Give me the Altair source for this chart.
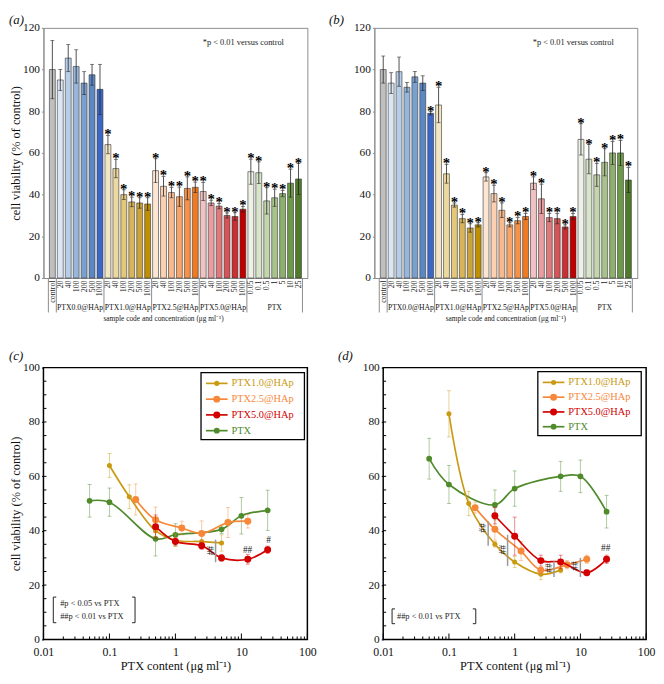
import altair as alt
import pandas as pd

FONT = "Liberation Serif"

groups = ["PTX0.0@HAp", "PTX1.0@HAp", "PTX2.5@HAp", "PTX5.0@HAp", "PTX"]
hap_conc = ["20", "40", "100", "200", "500", "1000"]
ptx_conc = ["0.05", "0.1", "0.5", "1", "5", "10", "25"]

# ---------------- panel (a)
a_control = [100.0, 14.0]
a_mean = {
    "PTX0.0@HAp": [95.0, 105.5, 101.5, 93.5, 97.5, 90.5],
    "PTX1.0@HAp": [64.0, 52.5, 40.0, 36.5, 36.0, 35.5],
    "PTX2.5@HAp": [51.5, 44.0, 41.0, 39.0, 43.0, 43.5],
    "PTX5.0@HAp": [41.5, 36.0, 34.5, 30.0, 29.5, 33.0],
    "PTX": [51.0, 50.5, 37.0, 38.5, 40.5, 45.5, 47.5],
}
a_err = {
    "PTX0.0@HAp": [5.0, 6.5, 8.0, 5.5, 5.0, 12.0],
    "PTX1.0@HAp": [4.4, 4.4, 2.3, 2.3, 2.5, 3.0],
    "PTX2.5@HAp": [5.7, 4.7, 2.5, 4.6, 5.5, 2.5],
    "PTX5.0@HAp": [4.3, 1.3, 1.3, 1.2, 1.8, 1.3],
    "PTX": [6.0, 5.2, 6.3, 4.1, 1.5, 6.7, 7.4],
}
a_sig = {
    "PTX0.0@HAp": [0, 0, 0, 0, 0, 0],
    "PTX1.0@HAp": [1, 1, 1, 1, 1, 1],
    "PTX2.5@HAp": [1, 1, 1, 1, 1, 1],
    "PTX5.0@HAp": [1, 1, 1, 1, 1, 1],
    "PTX": [1, 1, 1, 1, 1, 1, 1],
}

# ---------------- panel (b)
b_control = [100.0, 6.5]
b_mean = {
    "PTX0.0@HAp": [93.5, 99.0, 91.5, 96.5, 93.5, 79.0],
    "PTX1.0@HAp": [83.0, 50.0, 35.0, 28.5, 24.0, 25.5],
    "PTX2.5@HAp": [48.5, 40.5, 32.5, 25.5, 27.5, 29.5],
    "PTX5.0@HAp": [45.5, 38.0, 29.0, 28.5, 24.5, 29.5],
    "PTX": [66.5, 57.0, 49.5, 55.5, 60.0, 60.0, 47.0],
}
b_err = {
    "PTX0.0@HAp": [5.0, 7.0, 2.3, 2.6, 3.5, 0.8],
    "PTX1.0@HAp": [8.5, 4.5, 1.0, 2.0, 2.0, 1.0],
    "PTX2.5@HAp": [2.0, 4.0, 3.5, 1.0, 1.5, 1.5],
    "PTX5.0@HAp": [3.0, 7.0, 2.0, 2.5, 1.0, 1.5],
    "PTX": [7.5, 7.0, 5.5, 6.5, 5.5, 6.0, 6.0],
}
b_sig = {
    "PTX0.0@HAp": [0, 0, 0, 0, 0, 1],
    "PTX1.0@HAp": [1, 1, 1, 1, 1, 1],
    "PTX2.5@HAp": [1, 1, 1, 1, 1, 1],
    "PTX5.0@HAp": [1, 1, 1, 1, 1, 1],
    "PTX": [1, 1, 1, 1, 1, 1, 1],
}

# PTX content (ug/ml) of each sample, for (c) and (d)
ptx_content = {
    "PTX1.0@HAp": [0.1, 0.2, 0.5, 1.0, 2.5, 5.0],
    "PTX2.5@HAp": [0.25, 0.5, 1.25, 2.5, 6.25, 12.5],
    "PTX5.0@HAp": [0.5, 1.0, 2.5, 5.0, 12.5, 25.0],
    "PTX": [0.05, 0.1, 0.5, 1.0, 5.0, 10.0, 25.0],
}

# significance marks for (c) and (d)
c_sig = {"x": [3.3, 12.4, 25.9], "y": [32.7, 33.0, 36.5], "t": ["##", "##", "#"], "ang": [90, 0, 0]}
c_sig_lines = {"x": [4.06], "lo": [28.4], "hi": [36.7]}
d_sig = {"x": [0.32, 0.64, 3.17, 8.1, 24.3], "y": [41.0, 33.0, 26.3, 27.0, 33.5],
         "t": ["##", "##", "##", "##", "##"], "ang": [90, 90, 90, 90, 0]}
d_sig_lines = {"x": [0.395, 0.78, 3.96, 9.99], "lo": [34.5, 27.0, 23.0, 23.0], "hi": [43.5, 38.5, 28.8, 30.0]}
c_notes = ["#p < 0.05 vs PTX", "##p < 0.01 vs PTX"]
d_notes = ["##p < 0.01 vs PTX"]

# ---------------- styles
control_color = "#bfbfbf"
bar_colors = {
    "PTX0.0@HAp": ["#dbe6f4", "#b7cde8", "#98b6dc", "#7aa0d0", "#5b88c4", "#3b68c6"],
    "PTX1.0@HAp": ["#f3e6c4", "#ecd9a0", "#e3c87a", "#d7b458", "#cca33a", "#bf8f00"],
    "PTX2.5@HAp": ["#fde5d2", "#fcd0b0", "#fab98c", "#f8a468", "#f69147", "#f07a22"],
    "PTX5.0@HAp": ["#f0c2c4", "#e89da0", "#df7a7c", "#d65457", "#cc2f31", "#c00000"],
    "PTX": ["#eef2e6", "#d9e5cb", "#c2d5ab", "#a7c38b", "#8db06c", "#6d9a48", "#4f7b2b"],
}
line_colors = {"PTX1.0@HAp": "#c99a12", "PTX2.5@HAp": "#f7883a", "PTX5.0@HAp": "#d30000", "PTX": "#4f8a2b"}
point_sizes = {"PTX1.0@HAp": 26, "PTX2.5@HAp": 50, "PTX5.0@HAp": 50, "PTX": 34}
legend_order = ["PTX1.0@HAp", "PTX2.5@HAp", "PTX5.0@HAp", "PTX"]
draw_order = ["PTX", "PTX1.0@HAp", "PTX2.5@HAp", "PTX5.0@HAp"]
FRAME_GRAY = "#8c8c8c"


def letter_layer(letter, dx, dy):
    return alt.Chart(pd.DataFrame({"t": [letter]})).mark_text(
        font=FONT, fontSize=13, fontStyle="italic", align="left", baseline="middle", color="#111").encode(
        x=alt.value(dx), y=alt.value(dy), text="t:N")


def bar_df(control, means, errs, sigs):
    rows = [dict(pos=0.5, label="control", mean=control[0], err=control[1], color=control_color, sig=0)]
    i = 1
    for g in groups:
        concs = ptx_conc if g == "PTX" else hap_conc
        for j, c in enumerate(concs):
            rows.append(dict(pos=i + 0.5, label=c, mean=means[g][j], err=errs[g][j],
                             color=bar_colors[g][j], sig=sigs[g][j]))
            i += 1
    df = pd.DataFrame(rows)
    df["lo"] = df["mean"] - df["err"]
    df["hi"] = df["mean"] + df["err"]
    return df


def bar_panel(df, letter, W, H, ytitle, ldx, ldy, xtitle_x):
    n = len(df)
    xs = alt.Scale(domain=[0, n], nice=False, zero=False)
    ys = alt.Scale(domain=[0, 120], nice=False)
    lab_arr = "[" + ",".join("'%s'" % l for l in df["label"]) + "]"
    xaxis = alt.Axis(values=list(df["pos"]), labelExpr=lab_arr + "[floor(datum.value)]",
                     labelAngle=270, ticks=False, grid=False, domainColor=FRAME_GRAY,
                     labelFont=FONT, labelFontSize=8, labelColor="#222", labelOverlap=False,
                     labelBound=False, labelFlush=False, labelPadding=2, title=None)
    yaxis = alt.Axis(values=[0, 20, 40, 60, 80, 100, 120], tickSize=2, tickColor=FRAME_GRAY,
                     domainColor=FRAME_GRAY, grid=False, labelFont=FONT, labelFontSize=11.5,
                     labelColor="#111", labelPadding=2, title=ytitle, titleFont=FONT,
                     titleFontSize=12.5, titleFontWeight="normal", titleColor="#111", titlePadding=0)

    def X(f):
        return alt.X(f, type="quantitative", scale=xs, axis=xaxis)

    def Y(f):
        return alt.Y(f, type="quantitative", scale=ys, axis=yaxis)

    base = alt.Chart(df)
    bars = base.mark_bar(width=6, stroke="#333", strokeWidth=0.6).encode(
        x=X("pos"), y=Y("mean"), fill=alt.Fill("color:N", scale=None))
    err = base.mark_rule(color="#222", strokeWidth=0.8).encode(x=X("pos"), y=Y("lo"), y2="hi:Q")
    cap_hi = base.mark_tick(orient="horizontal", size=4, thickness=0.8, color="#222").encode(x=X("pos"), y=Y("hi"))
    cap_lo = base.mark_tick(orient="horizontal", size=4, thickness=0.8, color="#222").encode(x=X("pos"), y=Y("lo"))
    stars = base.transform_filter("datum.sig == 1").mark_text(
        text="*", font=FONT, fontSize=15, fontWeight="bold", baseline="alphabetic", dy=4,
        color="#000").encode(x=X("pos"), y=Y("hi"))

    # group separators and labels
    sizes = [1] + [len(ptx_conc) if g == "PTX" else len(hap_conc) for g in groups]
    seps = [0]
    for s in sizes:
        seps.append(seps[-1] + s)
    sep_layer = alt.Chart(pd.DataFrame({"sep": seps})).mark_rule(color=FRAME_GRAY, strokeWidth=1).encode(
        x=X("sep"), y=alt.value(H), y2=alt.value(H + 35))
    gdf = pd.DataFrame({"group": groups, "center": [(seps[k + 1] + seps[k + 2]) / 2 for k in range(len(groups))]})
    glab = alt.Chart(gdf).mark_text(font=FONT, fontSize=7.8, baseline="middle", color="#111").encode(
        x=X("center"), y=alt.value(H + 30), text="group:N")
    xt = alt.Chart(pd.DataFrame({"t": ["sample code and concentration (\u03bcg ml\u207b\u00b9)"]})).mark_text(
        font=FONT, fontSize=7.5, baseline="middle", color="#222").encode(
        x=alt.value(xtitle_x), y=alt.value(H + 42), text="t:N")
    note = alt.Chart(pd.DataFrame({"t": ["*p < 0.01  versus control"]})).mark_text(
        font=FONT, fontSize=8.5, baseline="middle", color="#222").encode(
        x=alt.value(W - 65), y=alt.value(14), text="t:N")

    return alt.layer(bars, err, cap_hi, cap_lo, stars, sep_layer, glab, xt, note,
                     letter_layer(letter, ldx, ldy)).properties(
        width=W, height=H,
        view=alt.ViewBackground(stroke=FRAME_GRAY, strokeWidth=1),
    )


def line_panel(means, errs, letter, sig, sig_lines, notes, legend_box, legend_rows, bracket,
               W, H, ytitle, ldx, ldy):
    xs = alt.Scale(type="log", domain=[0.01, 100], nice=False)
    ys = alt.Scale(domain=[0, 100], nice=False, zero=False)
    xaxis = alt.Axis(values=[0.01, 0.1, 1, 10, 100], format="~g", ticks=False, domain=False, grid=False,
                     labelFont=FONT, labelFontSize=12, labelColor="#111", labelPadding=7,
                     labelBound=False, labelFlush=False, labelOverlap=False,
                     title="PTX content (\u03bcg ml\u207b\u00b9)", titleFont=FONT, titleFontSize=12.5,
                     titleFontWeight="normal", titleColor="#111", titlePadding=3)
    yaxis = alt.Axis(values=[0, 20, 40, 60, 80, 100], tickSize=2, tickColor="black", domain=False,
                     grid=False, labelFont=FONT, labelFontSize=11.5, labelColor="#111", labelPadding=2,
                     title=ytitle, titleFont=FONT, titleFontSize=12.5, titleFontWeight="normal",
                     titleColor="#111", titlePadding=0)

    def X(f):
        return alt.X(f, type="quantitative", scale=xs, axis=xaxis)

    def Y(f):
        return alt.Y(f, type="quantitative", scale=ys, axis=yaxis)

    x_major = [0.01, 0.1, 1, 10, 100]
    x_minor = [k * 10.0 ** e for e in range(-2, 2) for k in range(2, 10)]
    y_minor = list(range(5, 100, 5))
    layers = [
        alt.Chart(pd.DataFrame({"v": x_minor})).mark_rule(color="black", strokeWidth=1).encode(
            x=X("v"), y=alt.value(H), y2=alt.value(H - 3)),
        alt.Chart(pd.DataFrame({"v": x_major})).mark_rule(color="black", strokeWidth=1).encode(
            x=X("v"), y=alt.value(H), y2=alt.value(H - 6)),
        alt.Chart(pd.DataFrame({"v": y_minor})).mark_rule(color="black", strokeWidth=1).encode(
            y=Y("v"), x=alt.value(0), x2=alt.value(3)),
    ]
    for name in draw_order:
        df = pd.DataFrame({"x": ptx_content[name], "m": means[name]})
        df["lo"] = df["m"] - pd.Series(errs[name])
        df["hi"] = df["m"] + pd.Series(errs[name])
        c = line_colors[name]
        b = alt.Chart(df)
        layers += [
            b.mark_rule(color=c, opacity=0.45, strokeWidth=1).encode(x=X("x"), y=Y("lo"), y2="hi:Q"),
            b.mark_tick(orient="horizontal", size=4, thickness=1, color=c, opacity=0.45).encode(x=X("x"), y=Y("hi")),
            b.mark_tick(orient="horizontal", size=4, thickness=1, color=c, opacity=0.45).encode(x=X("x"), y=Y("lo")),
            b.mark_line(color=c, strokeWidth=1.7, interpolate="catmull-rom").encode(x=X("x"), y=Y("m")),
            b.mark_circle(color=c, size=point_sizes[name], opacity=1).encode(x=X("x"), y=Y("m")),
        ]
    # significance lines and marks
    layers.append(alt.Chart(pd.DataFrame(sig_lines)).mark_rule(color="#999999", strokeWidth=1.5).encode(
        x=X("x"), y=Y("lo"), y2="hi:Q"))
    layers.append(alt.Chart(pd.DataFrame(sig)).mark_text(font=FONT, fontSize=9.5, baseline="middle",
                                                         color="#222").encode(
        x=X("x"), y=Y("y"), text="t:N", angle=alt.Angle("ang:Q", scale=None)))
    # legend (drawn)
    bx0, bx1, by0, by1 = legend_box
    one = pd.DataFrame({"k": [0]})
    layers.append(alt.Chart(one).mark_rect(fill="white", stroke="black", strokeWidth=1.3).encode(
        x=alt.value(bx0), x2=alt.value(bx1), y=alt.value(by0), y2=alt.value(by1)))
    for name, ry in zip(legend_order, legend_rows):
        c = line_colors[name]
        ldf = pd.DataFrame({"name": [name]})
        layers += [
            alt.Chart(ldf).mark_rule(color=c, strokeWidth=1.7).encode(
                x=alt.value(bx0 + 5), x2=alt.value(bx0 + 27), y=alt.value(ry)),
            alt.Chart(ldf).mark_circle(color=c, size=point_sizes[name], opacity=1).encode(
                x=alt.value(bx0 + 16), y=alt.value(ry)),
            alt.Chart(ldf).mark_text(font=FONT, fontSize=10.5, align="left", baseline="middle", color=c).encode(
                x=alt.value(bx0 + 31), y=alt.value(ry), text="name:N"),
        ]
    # bracketed notes
    lx, rx, top, bot, tx = bracket
    for xx, d in [(lx, 3), (rx, -3)]:
        layers += [
            alt.Chart(one).mark_rule(color="#222", strokeWidth=1).encode(
                x=alt.value(xx), y=alt.value(top), y2=alt.value(bot)),
            alt.Chart(one).mark_rule(color="#222", strokeWidth=1).encode(
                x=alt.value(xx), x2=alt.value(xx + d), y=alt.value(top)),
            alt.Chart(one).mark_rule(color="#222", strokeWidth=1).encode(
                x=alt.value(xx), x2=alt.value(xx + d), y=alt.value(bot)),
        ]
    step = (bot - top) / (len(notes) + 0.0)
    for k, t in enumerate(notes):
        layers.append(alt.Chart(pd.DataFrame({"t": [t]})).mark_text(
            font=FONT, fontSize=8.5, align="left", baseline="middle", color="#222").encode(
            x=alt.value(tx), y=alt.value(top + step * (k + 0.5)), text="t:N"))
    layers.append(letter_layer(letter, ldx, ldy))

    return alt.layer(*layers).properties(
        width=W, height=H,
        view=alt.ViewBackground(stroke="black", strokeWidth=1.5),
    )


YT = "cell viability (% of control)"
WL, WR = 268, 267
H1, H2 = 254, 276
pa = bar_panel(bar_df(a_control, a_mean, a_err, a_sig), "(a)", WL, H1, YT, -35, -8, 122)
pb = bar_panel(bar_df(b_control, b_mean, b_err, b_sig), "(b)", WR, H1, None, -46, -8, WR / 2)
pc = line_panel(a_mean, a_err, "(c)", c_sig, c_sig_lines, c_notes, (WL - 108, WL - 3, 5, 73),
                [16, 32, 48, 64], (10, 93, 233, 259, 17), WL, H2, YT, -35, -12)
pdd = line_panel(b_mean, b_err, "(d)", d_sig, d_sig_lines, d_notes, (WR - 110, WR - 5, 4, 69),
                 [15, 30, 45, 60], (9, 94, 245, 260, 14), WR, H2, None, -46, -12)

chart = alt.vconcat(
    alt.hconcat(pa, pb, spacing=20),
    alt.hconcat(pc, pdd, spacing=20),
    spacing=26,
).properties(padding={"left": 0, "top": 0, "right": 0, "bottom": 0}).configure(background="white")

chart.save("out.html", embed_options={"renderer": "svg", "actions": False})
